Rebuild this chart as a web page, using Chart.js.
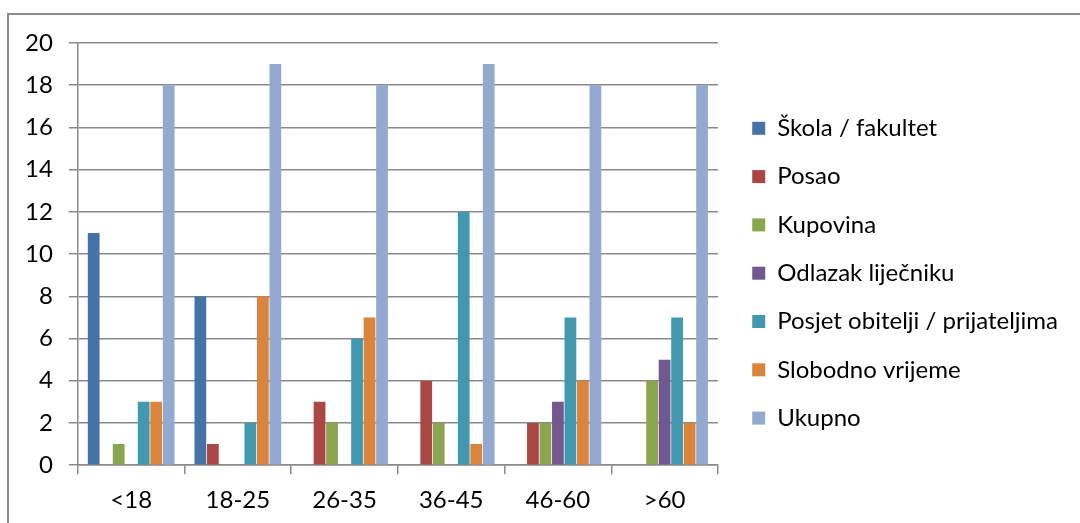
<!doctype html>
<html>

<head>
    <title>Bar Chart</title>
    <script src="https://cdn.jsdelivr.net/npm/chart.js@4.4.1/dist/chart.umd.min.js"></script>
    <style>
        body { margin: 0; background: #fff; }
        #frame {
            position: absolute;
            left: 7px;
            top: 13px;
            width: 1071px;
            height: 508px;
            border-top: 2px solid #8a8a8a;
            border-left: 2px solid #8a8a8a;
        }
    </style>
</head>

<body>
    <div id="frame">
        <canvas id="canvas"></canvas>
    </div>
    <script>
        var kategorije = ['<18', '18-25', '26-35', '36-45', '46-60', '>60'];

        var skola = [11, 8, 0, 0, 0, 0];
        var posao = [0, 1, 3, 4, 2, 0];
        var kupovina = [1, 0, 2, 2, 2, 4];
        var lijecnik = [0, 0, 0, 0, 3, 5];
        var obitelj = [3, 2, 6, 12, 7, 7];
        var slobodno = [3, 8, 7, 1, 4, 2];
        var ukupno = [18, 19, 18, 19, 18, 18];

        var yTicks = [0, 2, 4, 6, 8, 10, 12, 14, 16, 18, 20];

        var font = 'Lato, "Noto Sans", sans-serif';

        function serija(label, data, boja) {
            return {
                label: label,
                data: data,
                backgroundColor: boja,
                borderWidth: 0,
                barPercentage: 0.94,
                categoryPercentage: 0.82
            };
        }

        var barChartData = {
            labels: kategorije,
            datasets: [
                serija('Škola / fakultet', skola, '#4572A7'),
                serija('Posao', posao, '#AA4643'),
                serija('Kupovina', kupovina, '#89A54E'),
                serija('Odlazak liječniku', lijecnik, '#71588F'),
                serija('Posjet obitelji / prijateljima', obitelj, '#4198AF'),
                serija('Slobodno vrijeme', slobodno, '#DB843D'),
                serija('Ukupno', ukupno, '#93A9CF')
            ]
        };

        window.onload = function () {
            var ctx = document.getElementById('canvas').getContext('2d');
            window.myBar = new Chart(ctx, {
                type: 'bar',
                data: barChartData,
                options: {
                    responsive: true,
                    maintainAspectRatio: false,
                    animation: false,
                    layout: {
                        padding: { left: 0, top: 22, bottom: -4, right: 12 }
                    },
                    plugins: {
                        legend: {
                            position: 'right',
                            align: 'start',
                            maxWidth: 420,
                            // prazan naslov samo pomice stavke legende prema dolje
                            title: {
                                display: true,
                                text: '',
                                font: { size: 10 },
                                padding: { top: 23, bottom: 20 }
                            },
                            labels: {
                                boxWidth: 13,
                                boxHeight: 13,
                                padding: 24.3,
                                color: '#000',
                                font: { family: font, size: 24 }
                            }
                        },
                        tooltip: { enabled: false }
                    },
                    scales: {
                        x: {
                            grid: {
                                drawOnChartArea: false,
                                drawTicks: true,
                                tickLength: 9,
                                color: '#8a8a8a',
                                lineWidth: 1.5
                            },
                            border: { color: '#8a8a8a', width: 1.5 },
                            ticks: {
                                color: '#000',
                                padding: 12,
                                font: { family: font, size: 24 }
                            }
                        },
                        y: {
                            min: 0,
                            max: 20,
                            afterBuildTicks: function (axis) {
                                axis.ticks = yTicks.map(function (v) { return { value: v }; });
                            },
                            grid: {
                                tickLength: 9,
                                color: '#8a8a8a',
                                lineWidth: 1.5
                            },
                            border: { color: '#8a8a8a', width: 1.5 },
                            ticks: {
                                color: '#000',
                                padding: 16,
                                font: { family: font, size: 24, lineHeight: 1 }
                            }
                        },
                        // razmak izmedu crteza i legende
                        razmak: {
                            type: 'linear',
                            position: 'right',
                            grid: { display: false },
                            border: { display: false },
                            ticks: { display: false },
                            afterFit: function (s) { s.width = 10; }
                        }
                    }
                }
            });
        };
    </script>
</body>

</html>
